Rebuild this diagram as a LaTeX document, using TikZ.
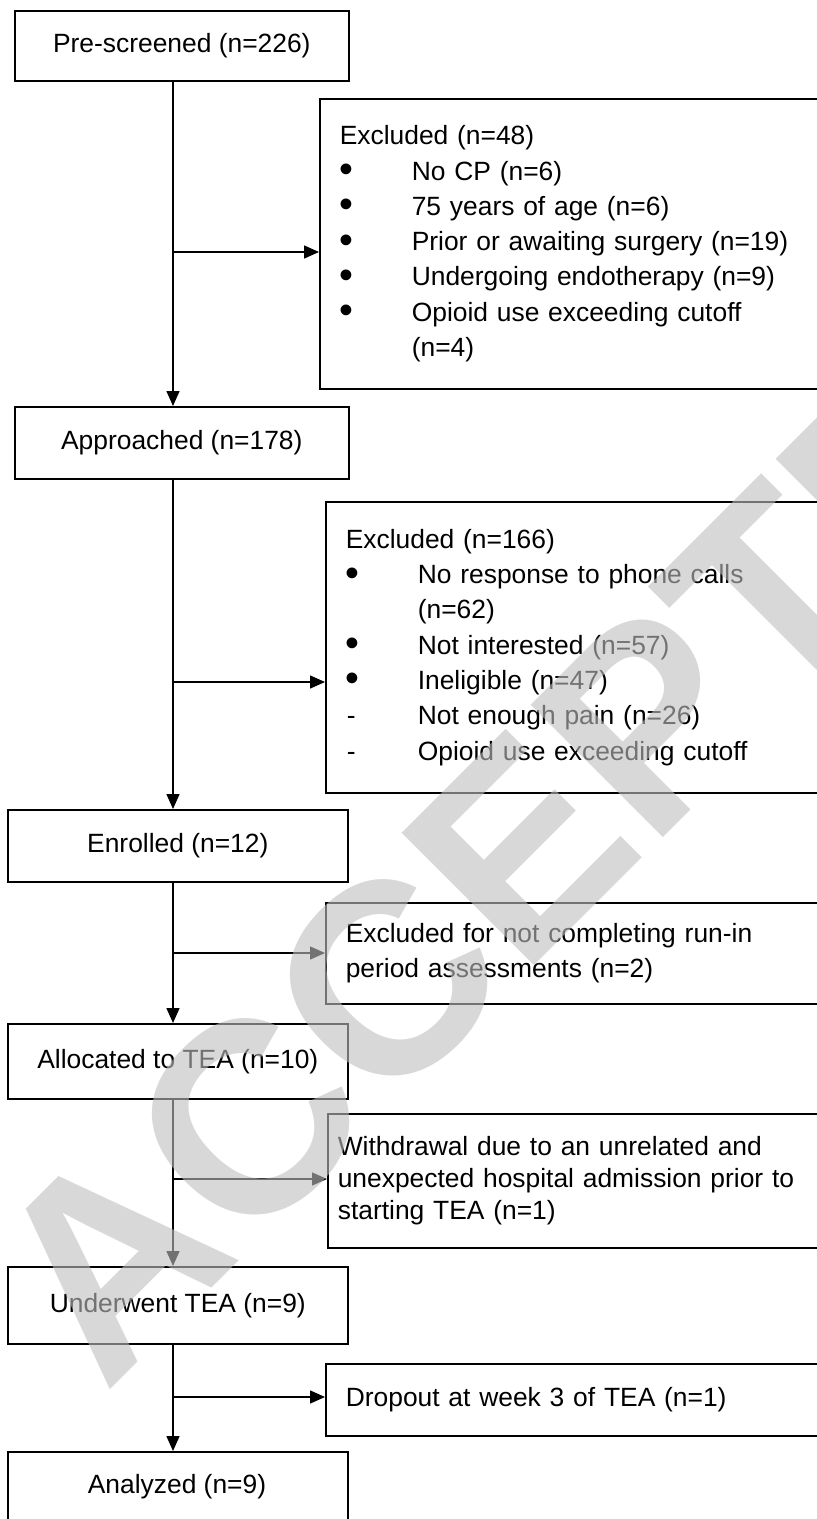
\documentclass[tikz,border=0pt]{standalone}
\usepackage{fontspec}
\usepackage{graphicx}
\setmainfont{Liberation Sans}
\usetikzlibrary{arrows.meta,calc}
\newcommand{\bul}{\makebox[72pt][l]{\raisebox{-2.5pt}{\scalebox{1.5}{\textbullet}}}}
\newcommand{\dsh}{\makebox[72pt][l]{\hspace{1pt}-}}
\newcommand{\ind}{\makebox[72pt][l]{}}
\begin{document}
\begin{tikzpicture}[x=1pt,y=-1pt,
  box/.style={draw=black,line width=1.6pt,rectangle,inner sep=0pt,
    font=\fontsize{26.4}{35.3}\selectfont,anchor=north west,align=center},
  xbox/.style={draw=black,line width=1.6pt,rectangle,inner ysep=0pt,inner xsep=20pt,
    font=\fontsize{26.4}{35.3}\selectfont,anchor=north west,align=left},
  arr/.style={line width=1.5pt,-{Triangle[length=15pt,width=13pt]}},
  wm/.style={font=\fontsize{272}{272}\selectfont\bfseries,text=black!25,text opacity=0.6,inner sep=0pt}
]
\clip (0,0) rectangle (817,1519);
\fill[white] (0,0) rectangle (817,1519);
% main column
\node[box,minimum width=334pt,minimum height=70pt] (pre) at (14,10) {Pre-screened (n=226)};
\node[box,minimum width=334pt,minimum height=72pt] (appr) at (14,406) {Approached (n=178)};
\node[box,minimum width=340pt,minimum height=72pt] (enr) at (7,809) {Enrolled (n=12)};
\node[box,minimum width=340pt,minimum height=75pt] (alloc) at (7,1023) {Allocated to TEA (n=10)};
\node[box,minimum width=340pt,minimum height=77pt] (under) at (7,1266) {Underwent TEA (n=9)};
\node[box,minimum width=340pt,minimum height=74pt] (anal) at (7,1451) {};
\node[font=\fontsize{26.4}{35.3}\selectfont,inner sep=0pt] (analt) at (177,1487) {Analyzed (n=9)};
% side boxes
\node[xbox,minimum width=520pt,minimum height=290pt,text width=480pt] (ex1) at (319,98)
 {Excluded (n=48)\\
  \bul No CP (n=6)\\
  \bul 75 years of age (n=6)\\
  \bul Prior or awaiting surgery (n=19)\\
  \bul Undergoing endotherapy (n=9)\\
  \bul Opioid use exceeding cutoff\\
  \ind (n=4)};
\node[xbox,minimum width=520pt,minimum height=291pt,text width=480pt] (ex2) at (325,501)
 {Excluded (n=166)\\
  \bul No response to phone calls\\
  \ind (n=62)\\
  \bul Not interested (n=57)\\
  \bul Ineligible (n=47)\\
  \dsh Not enough pain (n=26)\\
  \dsh Opioid use exceeding cutoff};
\node[xbox,minimum width=520pt,minimum height=101pt,text width=480pt] (ex3) at (325,902)
 {Excluded for not completing run-in\\period assessments (n=2)};
\node[xbox,minimum width=520pt,minimum height=134pt,text width=500pt,inner xsep=5pt,
  font=\fontsize{26.4}{32}\selectfont] (ex4) at (327,1113)
 {Withdrawal due to an unrelated and\\unexpected hospital admission prior to\\starting TEA (n=1)};
\node[xbox,minimum width=520pt,minimum height=72pt,text width=480pt] (ex5) at (325,1363)
 {Dropout at week 3 of TEA (n=1)};
% spine and junctions
\coordinate (spine) at (173,0);
\coordinate (j1) at (173,252);
\coordinate (j2) at (173,682);
\coordinate (j3) at (173,953);
\coordinate (j4) at (173,1179);
\coordinate (j5) at (173,1397);
\draw[arr] (pre.south -| spine) -- (appr.north -| spine);
\draw[arr] (appr.south -| spine) -- (enr.north -| spine);
\draw[arr] (enr.south -| spine) -- (alloc.north -| spine);
\draw[arr] (alloc.south -| spine) -- (under.north -| spine);
\draw[arr] (under.south -| spine) -- (anal.north -| spine);
\draw[arr] (j1) -- (j1 -| ex1.west);
\draw[arr] (j2) -- (j2 -| ex2.west);
\draw[arr] (j3) -- (j3 -| ex3.west);
\draw[arr] (j4) -- (j4 -| ex4.west);
\draw[arr] (j5) -- (j5 -| ex5.west);
% watermark
\node[wm,rotate=45,anchor=base west] (wmark) at (105,1395) {ACCEPTED};
\end{tikzpicture}
\end{document}
